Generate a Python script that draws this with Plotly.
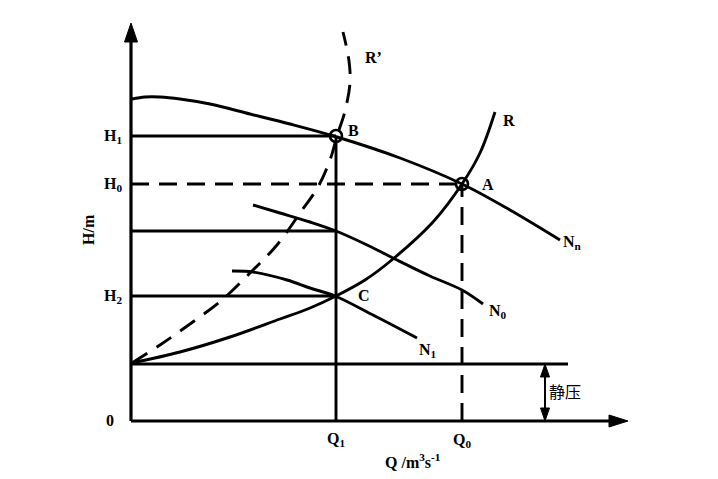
import plotly.graph_objects as go

# ---- data (Q in nominal flow units, H in nominal head units) ----
Q1 = 20.5
Q0 = 33.1
H1 = 28.5
H0 = 23.7
H_N0_Q1 = 19.0
H2 = 12.5
H_static = 5.7
Q_static_end = 43.7
Q_static_arrow = 41.4
Q_axis_end = 49.7
H_axis_end = 39.8

# pump curve Nn
Nn_Q = [0.1, 1.4, 2.9, 4.9, 7.9, 11.9, 15.9, 20.6, 26.9, 33.1, 37.9, 42.9]
Nn_H = [32.2, 32.4, 32.4, 32.2, 31.7, 30.7, 29.7, 28.4, 26.3, 23.7, 21.1, 18.1]
# pump curve N0
N0_Q = [12.2, 14.9, 17.9, 20.5, 23.4, 26.2, 29.9, 33.1, 35.2]
N0_H = [21.6, 20.8, 19.9, 19.0, 17.7, 16.3, 14.5, 13.1, 11.7]
# pump curve N1
N1_Q = [10.1, 12.2, 15.6, 17.9, 20.4, 24.2, 28.6]
N1_H = [15.0, 14.9, 14.1, 13.3, 12.5, 10.6, 8.3]
# system curve R
R_Q = [0.1, 4.9, 9.9, 14.9, 17.9, 20.5, 23.4, 26.2, 30.2, 33.1, 34.9, 36.4]
R_H = [5.8, 6.9, 8.4, 10.2, 11.3, 12.5, 14.1, 16.2, 19.9, 23.7, 26.8, 30.9]
# throttled system curve R'
Rp_Q = [0.1, 2.9, 5.9, 9.1, 11.9, 14.6, 16.9, 18.7, 19.9, 20.6, 21.4, 21.9, 21.8, 21.2]
Rp_H = [5.8, 7.6, 9.7, 12.1, 14.8, 17.6, 20.8, 23.4, 26.1, 28.5, 31.0, 33.8, 36.0, 38.9]

FONT = dict(family="Liberation Serif, Times New Roman, serif", size=16, color="black")
LW = 2.9
BLACK = "black"

fig = go.Figure()

def line(x, y, dash=None, width=LW, shape="linear"):
    fig.add_trace(go.Scatter(x=x, y=y, mode="lines", hoverinfo="skip",
                             line=dict(color=BLACK, width=width, dash=dash, shape=shape),
                             showlegend=False))

def tri(pts):
    xs = [p[0] for p in pts] + [pts[0][0]]
    ys = [p[1] for p in pts] + [pts[0][1]]
    fig.add_trace(go.Scatter(x=xs, y=ys, mode="lines", fill="toself", fillcolor=BLACK,
                             line=dict(color=BLACK, width=1), hoverinfo="skip", showlegend=False))

# axes
line([0, 0], [0, H_axis_end - 1.6], width=3.2)
line([0, Q_axis_end - 1.6], [0, 0], width=3.2)
tri([(0, H_axis_end), (-0.65, H_axis_end - 1.9), (0.65, H_axis_end - 1.9)])
tri([(Q_axis_end, 0), (Q_axis_end - 1.9, 0.6), (Q_axis_end - 1.9, -0.6)])

# reference lines
line([0, Q1], [H1, H1])
line([0, Q0], [H0, H0], dash="18px,10px")
line([0, Q1], [H_N0_Q1, H_N0_Q1])
line([0, Q1], [H2, H2])
line([Q1, Q1], [0, H1])
line([Q0, Q0], [0, H0], dash="18px,10px")
line([0, Q_static_end], [H_static, H_static])

# static pressure double arrow
line([Q_static_arrow, Q_static_arrow], [1.0, H_static - 1.0], width=2)
tri([(Q_static_arrow, H_static), (Q_static_arrow - 0.45, H_static - 1.3), (Q_static_arrow + 0.45, H_static - 1.3)])
tri([(Q_static_arrow, 0), (Q_static_arrow - 0.45, 1.3), (Q_static_arrow + 0.45, 1.3)])

# curves
line(Nn_Q, Nn_H, shape="spline")
line(N0_Q, N0_H, shape="spline")
line(N1_Q, N1_H, shape="spline")
line(R_Q, R_H, shape="spline")
line(Rp_Q, Rp_H, dash="18px,11px", shape="spline")

# operating points
fig.add_trace(go.Scatter(x=[Q1, Q0], y=[H1, H0], mode="markers", hoverinfo="skip",
                         marker=dict(symbol="circle-open", size=12, color=BLACK, line=dict(width=2.6)),
                         showlegend=False))

labels = [
    ("H<sub>1</sub>", -1.8, H1),
    ("H<sub>0</sub>", -1.8, H0),
    ("H<sub>2</sub>", -1.8, H2),
    ("0", -2.1, 0.1),
    ("Q<sub>1</sub>", Q1, -1.8),
    ("Q<sub>0</sub>", Q0, -1.9),
    ("Q /m<sup>3</sup>s<sup>-1</sup>", 28.2, -4.0),
    ("B", 22.2, 29.1),
    ("A", 35.7, 23.7),
    ("C", 23.3, 12.6),
    ("R", 37.8, 30.1),
    ("R’", 24.2, 36.4),
    ("N<sub>n</sub>", 44.1, 17.9),
    ("N<sub>0</sub>", 36.7, 11.0),
    ("N<sub>1</sub>", 29.7, 7.1),
]
for t, x, y in labels:
    fig.add_annotation(text="<b>" + t + "</b>", x=x, y=y, showarrow=False, font=FONT)

fig.add_annotation(text="<b>H/m</b>", x=-4.3, y=19.1, showarrow=False, font=FONT, textangle=-90)
fig.add_annotation(text="静压", x=43.4, y=3.0, showarrow=False,
                   font=dict(family="Noto Sans CJK SC", size=16, color="black"))

# page body has an 8px margin: size and ranges compensate so marks land where they should
fig.update_layout(
    width=702, height=463, margin=dict(l=0, r=0, t=0, b=0),
    paper_bgcolor="white", plot_bgcolor="white",
    xaxis=dict(range=[-12.3, 57.9], visible=False, fixedrange=True),
    yaxis=dict(range=[-5.0, 41.3], visible=False, fixedrange=True),
)
fig.write_html("out.html")
